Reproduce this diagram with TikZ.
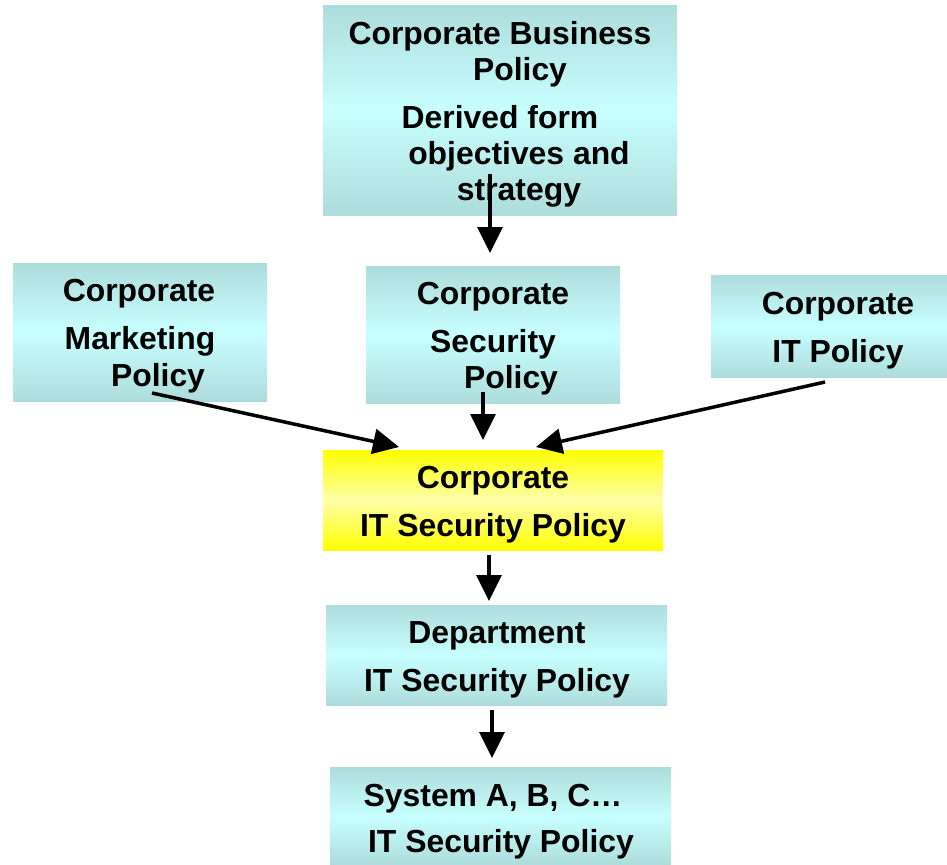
\documentclass[tikz,border=0pt]{standalone}
\usepackage{fontspec}
\setmainfont{Liberation Sans}
\usetikzlibrary{arrows.meta}
\definecolor{tealedge}{RGB}{174,220,220}
\definecolor{tealmid}{RGB}{200,255,255}
\definecolor{yeledge}{RGB}{255,255,0}
\definecolor{yelmid}{RGB}{255,255,170}
\begin{document}
\begin{tikzpicture}[x=1bp,y=-1bp,
  tealbox/.style={draw=none,inner sep=0pt,top color=tealedge,bottom color=tealedge,middle color=tealmid},
  yelbox/.style={draw=none,inner sep=0pt,top color=yeledge,bottom color=yeledge,middle color=yelmid},
  lbl/.style={inner sep=0pt,font=\fontsize{32}{36}\selectfont\bfseries,anchor=base},
  arr/.style={line width=3.5bp,-{Triangle[width=25bp,length=26bp]}}]
\useasboundingbox (0,0) rectangle (947,865);
% boxes
\path[tealbox] (323,5) rectangle (677,215);
\path[tealbox] (13,263) rectangle (267,401);
\path[tealbox] (366,266) rectangle (620,403);
\path[tealbox] (711,275) rectangle (947,377);
\path[yelbox] (323,450) rectangle (663,550);
\path[tealbox] (326,605) rectangle (667,705);
\path[tealbox] (330,767) rectangle (671,865);
% texts (baselines)
\node[lbl] (biz1) at (500,44) {Corporate Business};
\node[lbl] (biz2) at (520,80) {Policy};
\node[lbl] (biz3) at (500,128) {Derived form};
\node[lbl] (biz4) at (519,164) {objectives and};
\node[lbl] (biz5) at (519,200) {strategy};
\node[lbl] (mk1) at (139,301) {Corporate};
\node[lbl] (mk2) at (140,349) {Marketing};
\node[lbl] (mk3) at (158,386) {Policy};
\node[lbl] (sec1) at (493,304) {Corporate};
\node[lbl] (sec2) at (493,352) {Security};
\node[lbl] (sec3) at (511,388) {Policy};
\node[lbl] (it1) at (838,314) {Corporate};
\node[lbl] (it2) at (838,362) {IT Policy};
\node[lbl] (cits1) at (493,488) {Corporate};
\node[lbl] (cits2) at (493,536) {IT Security Policy};
\node[lbl] (dep1) at (497,643) {Department};
\node[lbl] (dep2) at (497,691) {IT Security Policy};
\node[lbl] (sys1) at (493,806) {System A, B, C…};
\node[lbl] (sys2) at (501,852) {IT Security Policy};
% connector endpoints
\coordinate (bizout) at (490,174);
\coordinate (secin) at (490,253);
\coordinate (mkout) at (152,393);
\coordinate (citsinL) at (399,447);
\coordinate (secout) at (483,392);
\coordinate (citsinM) at (483,440);
\coordinate (itout) at (825,382);
\coordinate (citsinR) at (536,447);
\coordinate (citsout) at (489,555);
\coordinate (depin) at (489,601);
\coordinate (depout) at (492,710);
\coordinate (sysin) at (492,758);
\draw[arr] (bizout) -- (secin);
\draw[arr] (mkout) -- (citsinL);
\draw[arr] (secout) -- (citsinM);
\draw[arr] (itout) -- (citsinR);
\draw[arr] (citsout) -- (depin);
\draw[arr] (depout) -- (sysin);
\end{tikzpicture}
\end{document}
